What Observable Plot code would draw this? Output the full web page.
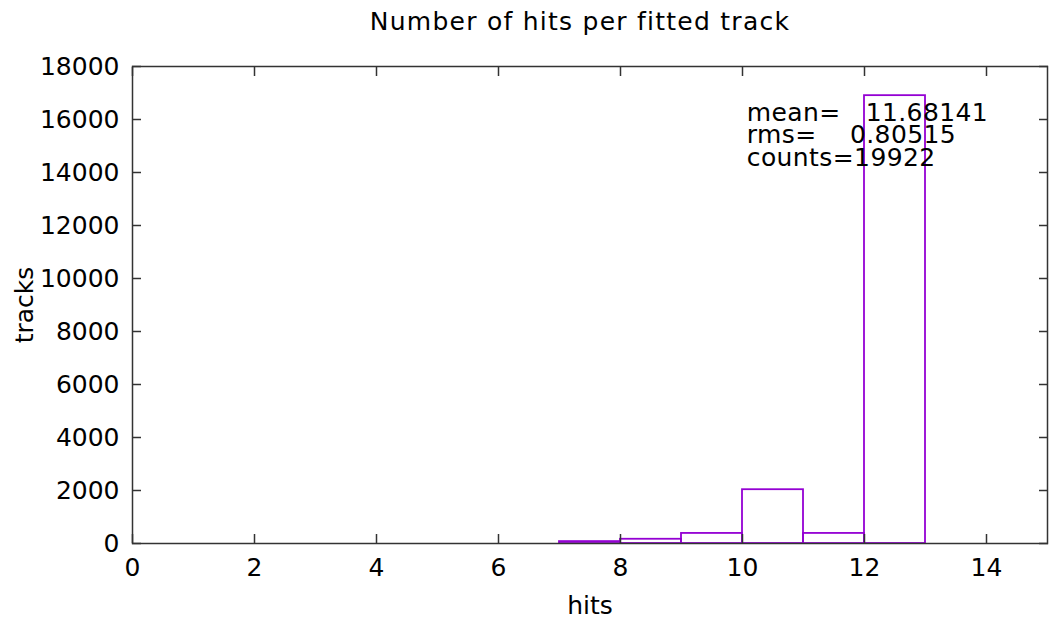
<!DOCTYPE html>
<html>
<head>
<meta charset="utf-8">
<script src="https://cdn.jsdelivr.net/npm/d3@7"></script>
<script src="https://cdn.jsdelivr.net/npm/@observablehq/plot@0.6"></script>
<style>
  html, body { margin: 0; padding: 0; background: #fff; }
  svg text { font-family: "DejaVu Sans", Verdana, sans-serif; }
</style>
</head>
<body>
<div id="chart"></div>
<script>
const title = "Number of hits per fitted track";
const xLabel = "hits";
const yLabel = "tracks";
const hitBins = [7, 8, 9, 10, 11, 12];
const trackCounts = [72, 160, 380, 2030, 380, 16900];
const xTicks = [0, 2, 4, 6, 8, 10, 12, 14];
const yTicks = [0, 2000, 4000, 6000, 8000, 10000, 12000, 14000, 16000, 18000];
const statLines = [
  "mean=\u00A0\u00A0\u00A011.68141",
  "rms=\u00A0\u00A0\u00A0\u00A00.80515",
  "counts=19922"
];
const statY = [16264, 15415, 14566];
const statX = 10.07;

const bins = hitBins.map((h, i) => ({lo: h, hi: h + 1, n: trackCounts[i]}));
const stats = statLines.map((s, i) => ({s, y: statY[i]}));

const axisColor = "#333";
const fs = 25;

const chart = Plot.plot({
  width: 1053,
  height: 624,
  marginLeft: 132,
  marginRight: 6,
  marginTop: 66,
  marginBottom: 81,
  style: {fontFamily: "DejaVu Sans, Verdana, sans-serif", fontSize: fs + "px", color: "#000", background: "#fff"},
  x: {domain: [0, 15], ticks: xTicks},
  y: {domain: [0, 18000], ticks: yTicks},
  marks: [
    Plot.rectY(bins, {x1: "lo", x2: "hi", y: "n", fill: "none", stroke: "#9400D3", strokeWidth: 1.8}),
    Plot.frame({stroke: axisColor, strokeWidth: 1.5}),
    // ticks (inward, mirrored)
    Plot.axisX({ticks: xTicks, tickSize: -9, tickFormat: () => "", label: null, stroke: axisColor, strokeWidth: 1.5}),
    Plot.axisX({ticks: xTicks, anchor: "top", tickSize: -9, tickFormat: () => "", label: null, stroke: axisColor, strokeWidth: 1.5}),
    Plot.axisY({ticks: yTicks, tickSize: -9, tickFormat: () => "", label: null, stroke: axisColor, strokeWidth: 1.5}),
    Plot.axisY({ticks: yTicks, anchor: "right", tickSize: -9, tickFormat: () => "", label: null, stroke: axisColor, strokeWidth: 1.5}),
    // tick labels
    Plot.axisX({ticks: xTicks, tickSize: 0, tickPadding: 15, label: null, fontSize: fs, fill: "#000"}),
    Plot.axisY({ticks: yTicks, tickSize: 0, tickPadding: 13, label: null, fontSize: fs, fill: "#000", tickFormat: d => String(d)}),
    // axis labels and title
    Plot.text([xLabel], {frameAnchor: "bottom", dy: 70, fontSize: fs, fill: "#000", textAnchor: "middle"}),
    Plot.text([yLabel], {frameAnchor: "left", dx: -108, rotate: -90, fontSize: fs, fill: "#000", textAnchor: "middle", lineAnchor: "middle"}),
    Plot.text([title], {frameAnchor: "top", dy: -54, dx: -10, fontSize: fs, fill: "#000", textAnchor: "middle"}),
    // statistics box
    Plot.text(stats, {x: () => statX, y: "y", text: "s", textAnchor: "start", fontSize: fs, fill: "#000"})
  ]
});
document.getElementById("chart").appendChild(chart);
d3.select(chart).selectAll("text").filter(function() { return this.textContent === title; })
  .style("letter-spacing", "1.25px");
d3.select(chart).selectAll("text").filter(function() { return statLines.includes(this.textContent); })
  .style("letter-spacing", "0.4px");
</script>
</body>
</html>
